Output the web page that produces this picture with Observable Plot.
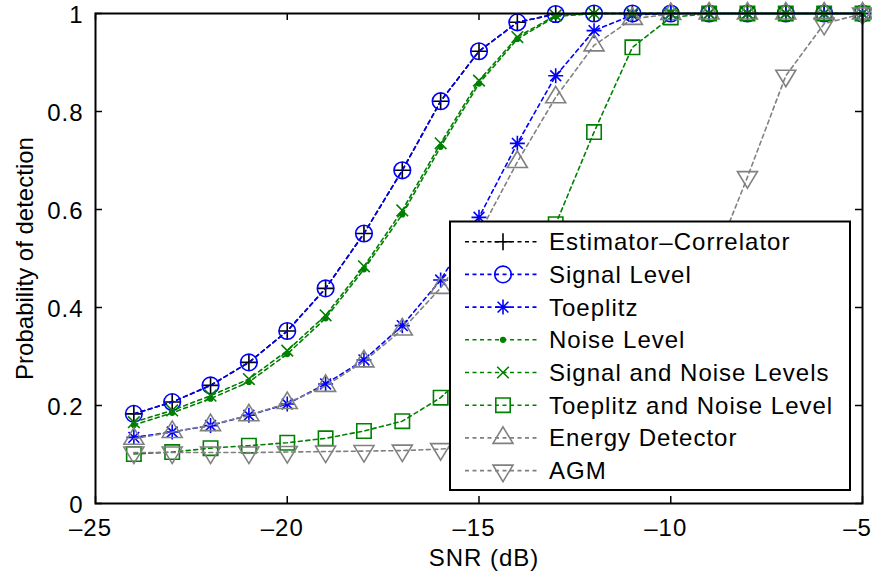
<!DOCTYPE html>
<html><head><meta charset="utf-8">
<script src="https://cdn.jsdelivr.net/npm/d3@7"></script>
<script src="https://cdn.jsdelivr.net/npm/@observablehq/plot@0.6"></script>
<style>html,body{margin:0;padding:0;background:#fff;} #chart{width:872px;height:579px;}</style>
</head><body><div id="chart"></div>
<script>
// ---- data ----
const snr = [-24,-23,-22,-21,-20,-19,-18,-17,-16,-15,-14,-13,-12,-11,-10,-9,-8,-7,-6,-5];
const estimatorCorrelator = [0.183,0.207,0.241,0.288,0.352,0.439,0.551,0.680,0.821,0.923,0.982,0.999,1,1,1,1,1,1,1,1];
const signalLevel        = [0.183,0.207,0.241,0.288,0.352,0.439,0.551,0.680,0.821,0.923,0.982,0.999,1,1,1,1,1,1,1,1];
const toeplitz           = [0.135,0.146,0.159,0.180,0.203,0.244,0.293,0.363,0.456,0.584,0.735,0.873,0.965,0.997,1,1,1,1,1,1];
const noiseLevel         = [0.160,0.185,0.214,0.248,0.305,0.378,0.478,0.590,0.728,0.857,0.948,0.994,1,1,1,1,1,1,1,1];
const signalNoiseLevels  = [0.166,0.190,0.220,0.254,0.312,0.384,0.484,0.598,0.735,0.863,0.952,0.996,1,1,1,1,1,1,1,1];
const toeplitzNoiseLevel = [0.101,0.105,0.113,0.118,0.124,0.133,0.148,0.168,0.216,0.290,0.410,0.570,0.758,0.931,0.992,1,1,1,1,1];
const energyDetector     = [0.132,0.146,0.160,0.180,0.205,0.240,0.290,0.355,0.440,0.550,0.697,0.829,0.935,0.989,0.999,1,1,1,1,1];
const agm                = [0.104,0.104,0.104,0.104,0.105,0.106,0.107,0.108,0.111,0.117,0.127,0.142,0.167,0.210,0.300,0.470,0.666,0.873,0.979,1];
const seriesNames = ["Estimator–Correlator","Signal Level","Toeplitz","Noise Level","Signal and Noise Levels","Toeplitz and Noise Level","Energy Detector","AGM"];
const xTicks = [-25,-20,-15,-10,-5];
const yTicks = [0,0.2,0.4,0.6,0.8,1];
const xLabel = "SNR (dB)";
const yLabel = "Probability of detection";

// ---- custom MATLAB-like marker symbols ----
const rad = s => Math.sqrt(s/Math.PI);
const sym = {
  plus: {draw(c,s){const r=rad(s);c.moveTo(-r,0);c.lineTo(r,0);c.moveTo(0,-r);c.lineTo(0,r);}},
  circle: {draw(c,s){const r=rad(s);c.moveTo(r,0);c.arc(0,0,r,0,2*Math.PI);}},
  asterisk: {draw(c,s){const r=rad(s),d=r*0.72;c.moveTo(-r,0);c.lineTo(r,0);c.moveTo(0,-r);c.lineTo(0,r);c.moveTo(-d,-d);c.lineTo(d,d);c.moveTo(-d,d);c.lineTo(d,-d);}},
  point: {draw(c,s){const r=rad(s);c.moveTo(r,0);c.arc(0,0,r,0,2*Math.PI);}},
  times: {draw(c,s){const r=rad(s);c.moveTo(-r,-r);c.lineTo(r,r);c.moveTo(-r,r);c.lineTo(r,-r);}},
  square: {draw(c,s){const r=rad(s);c.rect(-r,-r,2*r,2*r);}},
  triUp: {draw(c,s){const r=rad(s);c.moveTo(0,-r*1.1);c.lineTo(r,r*0.55);c.lineTo(-r,r*0.55);c.closePath();}},
  triDown: {draw(c,s){const r=rad(s);c.moveTo(0,r*1.1);c.lineTo(r,-r*0.55);c.lineTo(-r,-r*0.55);c.closePath();}}
};
const BLUE="#0000ff", GREEN="#008000", GRAY="#808080";
const series = [
  {name: seriesNames[0], values: estimatorCorrelator, color: "#000000", symbol: sym.plus, r: 8.5, fill: "none"},
  {name: seriesNames[1], values: signalLevel, color: BLUE, symbol: sym.circle, r: 8.3, fill: "none"},
  {name: seriesNames[2], values: toeplitz, color: BLUE, symbol: sym.asterisk, r: 7.5, fill: "none"},
  {name: seriesNames[3], values: noiseLevel, color: GREEN, symbol: sym.point, r: 2.3, fill: GREEN},
  {name: seriesNames[4], values: signalNoiseLevels, color: GREEN, symbol: sym.times, r: 5.8, fill: "none"},
  {name: seriesNames[5], values: toeplitzNoiseLevel, color: GREEN, symbol: sym.square, r: 7.2, fill: "none"},
  {name: seriesNames[6], values: energyDetector, color: GRAY, symbol: sym.triUp, r: 10, fill: "none"},
  {name: seriesNames[7], values: agm, color: GRAY, symbol: sym.triDown, r: 10, fill: "none"}
];

// ---- layout ----
const W = 872, H = 579, mL = 95, mR = 10, mT = 13, mB = 76;
const innerW = W - mL - mR, innerH = H - mT - mB, tickLen = 7;
const DASH = "4,3.5";
const fmtX = d => d < 0 ? "\u2013" + Math.abs(d) : String(d);

const marks = [];
series.forEach(s => {
  const data = snr.map((x, i) => ({x, y: s.values[i]}));
  marks.push(Plot.line(data, {x: "x", y: "y", stroke: s.color, strokeWidth: 1.6, strokeDasharray: DASH}));
  marks.push(Plot.dot(data, {x: "x", y: "y", symbol: s.symbol, r: s.r, stroke: s.color, fill: s.fill, strokeWidth: 1.6}));
});
marks.push(Plot.ruleX(xTicks, {x: d => d, insetTop: innerH - tickLen, stroke: "black", strokeWidth: 1.5}));
marks.push(Plot.ruleX(xTicks, {x: d => d, insetBottom: innerH - tickLen, stroke: "black", strokeWidth: 1.5}));
marks.push(Plot.ruleY(yTicks, {y: d => d, insetRight: innerW - tickLen, stroke: "black", strokeWidth: 1.5}));
marks.push(Plot.ruleY(yTicks, {y: d => d, insetLeft: innerW - tickLen, stroke: "black", strokeWidth: 1.5}));
marks.push(Plot.frame({stroke: "black", strokeWidth: 2}));
marks.push(Plot.axisX({ticks: xTicks, tickSize: 0, tickPadding: 15, tickFormat: fmtX, fontSize: 24, dx: -5,
  label: xLabel, labelAnchor: "center", labelOffset: 62, labelArrow: "none"}));
marks.push(Plot.axisY({ticks: yTicks, tickSize: 0, tickPadding: 12, tickFormat: d => String(d), fontSize: 24, dy: 2,
  label: yLabel, labelAnchor: "center", labelOffset: 80, labelArrow: "none"}));

const svgNode = Plot.plot({
  width: W, height: H,
  marginLeft: mL, marginRight: mR, marginTop: mT, marginBottom: mB,
  x: {domain: [-25, -5]},
  y: {domain: [0, 1]},
  style: {fontFamily: "'Liberation Sans', Arial, sans-serif", fontSize: "24px", background: "white", color: "black", overflow: "visible", letterSpacing: "1px"},
  marks
});
document.getElementById("chart").appendChild(svgNode);

const svg = d3.select(svgNode);
svg.selectAll("[aria-label='y-axis label'] text").style("letter-spacing", "0px");
svg.selectAll("[aria-label='x-axis label'] text").attr("transform", function() { return d3.select(this).attr("transform"); }).attr("dx", 5);

// ---- legend ----
const lg = svg.append("g").attr("font-family", "'Liberation Sans', Arial, sans-serif").attr("font-size", 24).attr("text-anchor", "start");
lg.append("rect").attr("x", 450).attr("y", 221.5).attr("width", 400).attr("height", 268.5)
  .attr("fill", "white").attr("stroke", "black").attr("stroke-width", 2);
series.forEach((s, i) => {
  const cy = 241.7 + i * 32.7;
  lg.append("line").attr("x1", 465).attr("x2", 540).attr("y1", cy).attr("y2", cy)
    .attr("stroke", s.color).attr("stroke-width", 1.6).attr("stroke-dasharray", DASH);
  lg.append("path").attr("d", d3.symbol(s.symbol, Math.PI * s.r * s.r)())
    .attr("transform", `translate(503,${cy})`).attr("stroke", s.color).attr("fill", s.fill).attr("stroke-width", 1.6);
  lg.append("text").attr("x", 549).attr("y", cy + 8.5).attr("fill", "black").attr("text-anchor", "start")
    .style("letter-spacing", "1px").text(s.name);
});
</script>
</body></html>
